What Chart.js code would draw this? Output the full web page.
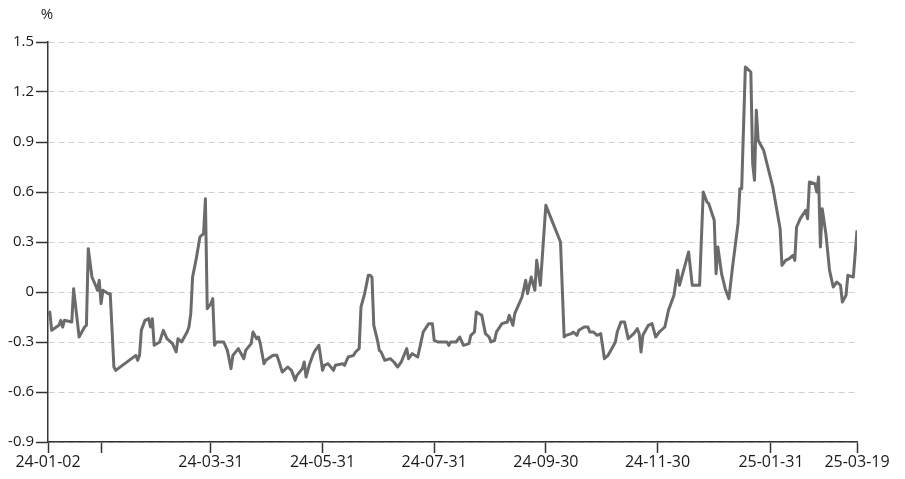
<!DOCTYPE html>
<html>
<head>
<meta charset="utf-8">
<script src="https://cdn.jsdelivr.net/npm/chart.js"></script>
<style>
  html, body { margin: 0; padding: 0; background: #fff; }
  #wrap { width: 905px; height: 479px; }
</style>
</head>
<body>
<div id="wrap"><canvas id="myChart" width="905" height="479"></canvas></div>
<script>
// daily values
const dates = [
  '24-01-02','24-01-03','24-01-04','24-01-08','24-01-09','24-01-10','24-01-11','24-01-15','24-01-16','24-01-19',
  '24-01-22','24-01-23','24-01-24','24-01-26','24-01-28','24-01-29','24-01-30','24-01-31','24-02-01','24-02-04',
  '24-02-05','24-02-07','24-02-08','24-02-19','24-02-20','24-02-21','24-02-22','24-02-24','24-02-26','24-02-27',
  '24-02-28','24-02-29','24-03-03','24-03-05','24-03-07','24-03-10','24-03-12','24-03-13','24-03-15','24-03-18',
  '24-03-19','24-03-20','24-03-21','24-03-23','24-03-25','24-03-27','24-03-28','24-03-29','24-03-31','24-04-01',
  '24-04-02','24-04-03','24-04-07','24-04-09','24-04-11','24-04-12','24-04-15','24-04-16','24-04-18','24-04-19',
  '24-04-22','24-04-23','24-04-25','24-04-26','24-04-27','24-04-29','24-04-30','24-05-04','24-05-06','24-05-07',
  '24-05-09','24-05-10','24-05-12','24-05-14','24-05-16','24-05-17','24-05-20','24-05-21','24-05-22','24-05-24',
  '24-05-26','24-05-27','24-05-29','24-05-31','24-06-01','24-06-03','24-06-06','24-06-07','24-06-11','24-06-12',
  '24-06-14','24-06-17','24-06-18','24-06-20','24-06-21','24-06-23','24-06-25','24-06-26','24-06-27','24-06-28',
  '24-06-30','24-07-01','24-07-02','24-07-04','24-07-07','24-07-09','24-07-11','24-07-13','24-07-16','24-07-17',
  '24-07-19','24-07-22','24-07-25','24-07-28','24-07-30','24-07-31','24-08-02','24-08-07','24-08-08','24-08-09',
  '24-08-12','24-08-14','24-08-16','24-08-19','24-08-20','24-08-22','24-08-23','24-08-26','24-08-28','24-08-30',
  '24-08-31','24-09-02','24-09-03','24-09-06','24-09-09','24-09-10','24-09-12','24-09-13','24-09-15','24-09-17',
  '24-09-19','24-09-20','24-09-22','24-09-24','24-09-25','24-09-27','24-09-30','24-10-08','24-10-10','24-10-11',
  '24-10-14','24-10-15','24-10-17','24-10-18','24-10-21','24-10-23','24-10-24','24-10-26','24-10-28','24-10-30',
  '24-11-01','24-11-03','24-11-05','24-11-07','24-11-08','24-11-10','24-11-12','24-11-14','24-11-17','24-11-19',
  '24-11-20','24-11-21','24-11-22','24-11-25','24-11-27','24-11-29','24-12-01','24-12-04','24-12-06','24-12-09',
  '24-12-11','24-12-12','24-12-15','24-12-17','24-12-19','24-12-22','24-12-23','24-12-25','24-12-27','24-12-28',
  '24-12-31','25-01-01','25-01-02','25-01-04','25-01-06','25-01-08','25-01-10','25-01-13','25-01-14','25-01-15',
  '25-01-17','25-01-18','25-01-20','25-01-21','25-01-22','25-01-23','25-01-24','25-01-27','25-02-01','25-02-05',
  '25-02-06','25-02-08','25-02-10','25-02-12','25-02-13','25-02-14','25-02-16','25-02-19','25-02-20','25-02-21',
  '25-02-24','25-02-25','25-02-26','25-02-27','25-02-28','25-03-02','25-03-04','25-03-06','25-03-08','25-03-10',
  '25-03-11','25-03-13','25-03-14','25-03-17','25-03-19'
];
const values = [
  -0.14,-0.12,-0.23,-0.20,-0.17,-0.21,-0.17,-0.18, 0.02,-0.27,
  -0.21,-0.20, 0.26, 0.09, 0.04, 0.01, 0.07,-0.07, 0.01,-0.01,
  -0.01,-0.45,-0.47,-0.38,-0.41,-0.38,-0.23,-0.17,-0.16,-0.21,
  -0.16,-0.32,-0.30,-0.23,-0.28,-0.31,-0.36,-0.28,-0.30,-0.24,
  -0.21,-0.13, 0.09, 0.20, 0.33, 0.35, 0.56,-0.10,-0.07,-0.04,
  -0.32,-0.30,-0.30,-0.35,-0.46,-0.38,-0.34,-0.36,-0.40,-0.35,
  -0.31,-0.24,-0.28,-0.27,-0.31,-0.43,-0.41,-0.38,-0.38,-0.41,
  -0.48,-0.47,-0.45,-0.47,-0.53,-0.50,-0.46,-0.42,-0.51,-0.43,
  -0.37,-0.35,-0.32,-0.47,-0.44,-0.43,-0.47,-0.44,-0.43,-0.44,
  -0.39,-0.38,-0.36,-0.34,-0.09,-0.01, 0.10, 0.10, 0.09,-0.20,
  -0.29,-0.35,-0.36,-0.41,-0.40,-0.42,-0.45,-0.42,-0.34,-0.40,
  -0.37,-0.39,-0.24,-0.19,-0.19,-0.29,-0.30,-0.30,-0.32,-0.30,
  -0.30,-0.27,-0.32,-0.31,-0.26,-0.24,-0.12,-0.14,-0.25,-0.27,
  -0.30,-0.29,-0.24,-0.19,-0.18,-0.14,-0.20,-0.13,-0.08,-0.03,
   0.07,-0.01, 0.09, 0.01, 0.19, 0.04, 0.52, 0.30,-0.27,-0.26,
  -0.25,-0.24,-0.26,-0.23,-0.21,-0.21,-0.24,-0.24,-0.26,-0.25,
  -0.40,-0.38,-0.34,-0.30,-0.24,-0.18,-0.18,-0.28,-0.25,-0.22,
  -0.25,-0.36,-0.26,-0.20,-0.19,-0.27,-0.24,-0.21,-0.11,-0.02,
   0.13, 0.04, 0.16, 0.24, 0.04, 0.04, 0.04, 0.60, 0.54, 0.53,
   0.43, 0.11, 0.27, 0.11, 0.02,-0.04, 0.15, 0.41, 0.62, 0.62,
   1.35, 1.34, 1.32, 0.77, 0.67, 1.09, 0.91, 0.85, 0.63, 0.38,
   0.16, 0.19, 0.20, 0.22, 0.19, 0.39, 0.44, 0.49, 0.44, 0.66,
   0.65, 0.60, 0.69, 0.27, 0.50, 0.35, 0.13, 0.03, 0.06, 0.04,
  -0.06,-0.02, 0.10, 0.09, 0.37
];
const xTickDates = ['24-01-02','24-01-31','24-03-31','24-05-31','24-07-31','24-09-30','24-11-30','25-01-31','25-03-19'];
const hiddenXLabels = ['24-01-31'];
const yTickValues = [-0.9, -0.6, -0.3, 0, 0.3, 0.6, 0.9, 1.2, 1.5];
const unit = '%';

function toTime(s) {
    let p = s.split('-');
    return Date.UTC(2000 + Number(p[0]), Number(p[1]) - 1, Number(p[2]));
}
const t0 = toTime(dates[0]);
function dayOf(s) {
    return Math.round((toTime(s) - t0) / 86400000);
}

const points = dates.map((d, i) => ({x: dayOf(d), y: values[i]}));

const unitLabel = {
    id: 'unitLabel',
    afterDraw(chart) {
        const ctx = chart.ctx;
        ctx.save();
        ctx.font = '15px "Open Sans"';
        ctx.fillStyle = '#1a1a1a';
        ctx.textAlign = 'center';
        ctx.textBaseline = 'middle';
        ctx.fillText(unit, chart.chartArea.left - 1, 15);
        ctx.restore();
    }
};

function drawChart() {
    var ctx = document.getElementById('myChart').getContext('2d');
    new Chart(ctx, {
        type: 'line',
        data: {
            datasets: [{
                data: points,
                borderColor: '#6b6b6b',
                borderWidth: 3,
                borderJoinStyle: 'round',
                pointRadius: 0,
                tension: 0,
                fill: false
            }]
        },
        options: {
            responsive: false,
            animation: false,
            devicePixelRatio: 1,
            layout: { padding: { top: 42, right: 48, left: 0, bottom: 0 } },
            plugins: { legend: { display: false }, tooltip: { enabled: false } },
            scales: {
                x: {
                    type: 'linear',
                    min: 0,
                    max: dayOf(xTickDates[xTickDates.length - 1]),
                    afterBuildTicks: s => { s.ticks = xTickDates.map(d => ({value: dayOf(d)})); },
                    afterFit: s => { s.height = 37; },
                    ticks: {
                        autoSkip: false,
                        maxRotation: 0,
                        padding: 0,
                        color: '#1a1a1a',
                        font: { family: 'Open Sans', size: 16 },
                        callback: v => {
                            let lab = xTickDates.find(d => dayOf(d) === v);
                            return (!lab || hiddenXLabels.includes(lab)) ? '' : lab;
                        }
                    },
                    grid: { drawOnChartArea: false, tickLength: 11, tickColor: '#333', tickWidth: 1.5 },
                    border: { color: '#333', width: 1.5 }
                },
                y: {
                    min: yTickValues[0],
                    max: yTickValues[yTickValues.length - 1],
                    afterBuildTicks: s => { s.ticks = yTickValues.map(v => ({value: v})); },
                    afterFit: s => { s.width = 48; },
                    ticks: {
                        padding: 2,
                        color: '#1a1a1a',
                        font: { family: 'Open Sans', size: 15 },
                        callback: v => v === 0 ? '0' : v.toFixed(1)
                    },
                    grid: { color: '#cfcfcf', lineWidth: 1, tickLength: 12, tickColor: '#333', tickWidth: 1.5, tickBorderDash: [] },
                    border: { color: '#333', width: 1.5, dash: [6, 4] }
                }
            }
        },
        plugins: [unitLabel]
    });
}

drawChart();
</script>
</body>
</html>
